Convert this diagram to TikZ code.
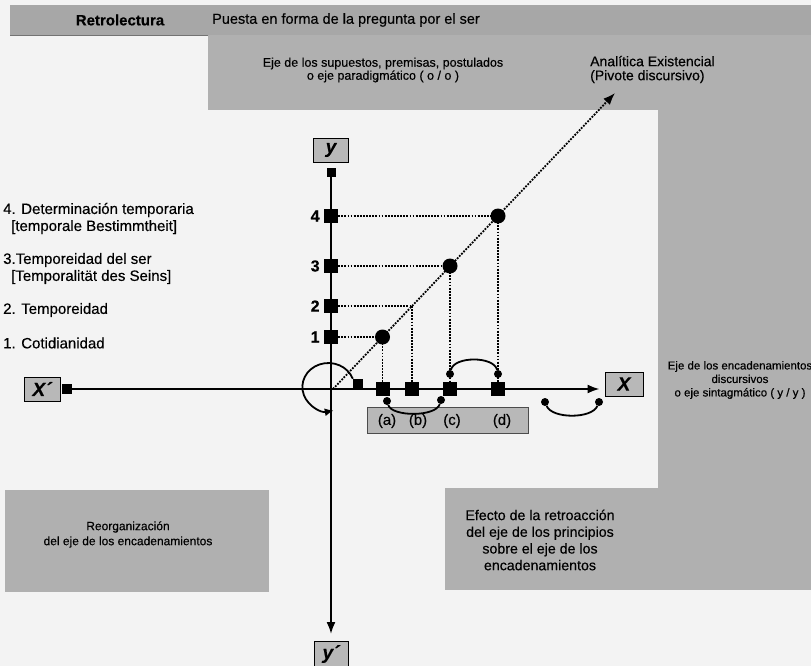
\documentclass[tikz,border=0pt]{standalone}
\usepackage{fontspec}
\setmainfont{Liberation Sans}[FakeBold=0.35]
\usetikzlibrary{arrows.meta}
\definecolor{bgc}{HTML}{F3F3F3}
\definecolor{hdrc}{HTML}{A7A7A7}
\definecolor{boxc}{HTML}{B0B0B0}
\definecolor{labc}{HTML}{B8B8B8}
\begin{document}
\begin{tikzpicture}[x=1pt,y=-1pt,
  txt/.style={inner sep=0pt, align=center},
  axisbox/.style={draw=black, line width=0.9pt, fill=labc, inner sep=0pt,
    minimum height=24pt, font=\fontsize{19}{19}\selectfont\bfseries\itshape},
  ticksq/.style={fill=black, minimum size=14pt, inner sep=0pt},
  smallsq/.style={fill=black, minimum size=10pt, inner sep=0pt},
  bigdot/.style={circle, fill=black, minimum size=15pt, inner sep=0pt},
  enddot/.style={circle, fill=black, minimum size=8pt, inner sep=0pt},
  dotline/.style={line width=1.8pt, dash pattern=on 1.8pt off 1.3pt},
  axisline/.style={line width=2pt},
  arcline/.style={line width=1.8pt},
  tipA/.style={-{Latex[length=12pt,width=9pt]}}
]
\useasboundingbox (0,0) rectangle (811,666);
% backgrounds
\fill[bgc] (0,0) rectangle (811,666);
\fill[hdrc] (10,5) rectangle (811,35);
\draw[black!55, line width=0.8pt] (10,35) -- (811,35);
\fill[boxc] (208,35.4) rectangle (811,110);
\fill[boxc] (658,110) rectangle (811,490);
\fill[boxc] (445,488) rectangle (811,590);
\fill[boxc] (5,490) rectangle (269,592);

% header texts
\node[txt, font=\fontsize{15}{16}\selectfont\bfseries] (retro) at (120,20) {Retrolectura};
\node[txt, anchor=west, font=\fontsize{14.5}{16}\selectfont] (puesta) at (212,20) {Puesta en forma de la pregunta por el ser};
\node[txt, font=\fontsize{12.5}{13}\selectfont] (ejeo) at (383,70) {Eje de los supuestos, premisas, postulados\\o eje paradigmático ( o / o )};
\node[txt, anchor=west, align=left, font=\fontsize{14}{14}\selectfont] (anal) at (590,69.5) {Analítica Existencial\\(Pivote discursivo)};
\node[txt, font=\fontsize{11.5}{13.5}\selectfont] (ejey) at (740,380) {Eje de los encadenamientos\\discursivos\\o eje sintagmático ( y / y )};
\node[txt, font=\fontsize{12}{15}\selectfont] (reorg) at (128,534.5) {Reorganización\\del eje de los encadenamientos};
\node[txt, font=\fontsize{14.2}{16.7}\selectfont] (efecto) at (540,540) {Efecto de la retroacción\\del eje de los principios\\sobre el eje de los\\encadenamientos};

% left labels
\node[txt, anchor=west, align=left, font=\fontsize{15}{17}\selectfont] (l4) at (3,218.5) {4. Determinación temporaria\\\hspace*{8pt}[temporale Bestimmtheit]};
\node[txt, anchor=west, align=left, font=\fontsize{15}{17}\selectfont] (l3) at (3,268.5) {3.Temporeidad del ser\\\hspace*{8pt}[Temporalität des Seins]};
\node[txt, anchor=west, font=\fontsize{15}{17}\selectfont] (l2) at (3,310) {2. Temporeidad};
\node[txt, anchor=west, font=\fontsize{15}{17}\selectfont] (l1) at (3,343) {1. Cotidianidad};

% axis boxes
\node[axisbox, minimum width=35pt] (Y) at (331,150) {y};
\node[axisbox, minimum width=34pt, minimum height=25pt] (Yp) at (331,654) {y´};
\node[axisbox, minimum width=38pt] (X) at (624,384) {X};
\node[axisbox, minimum width=36pt] (Xp) at (42,389) {X´};

\coordinate (O) at (331,389);
\node[smallsq, minimum size=9pt] (ytop) at (331,172) {};
\node[smallsq] (xl) at (67,389) {};

% axes
\draw[axisline] (ytop.south) -- (O);
\draw[axisline, tipA, shorten >=7pt] (O) -- (Yp.north);
\draw[axisline] (xl.east) -- (O);
\draw[axisline, tipA, shorten >=5pt] (O) -- (X.west |- O);

% ticks on y
\node[ticksq] (t4) at (331,216) {};
\node[ticksq] (t3) at (331,266) {};
\node[ticksq] (t2) at (331,306) {};
\node[ticksq] (t1) at (331,337) {};
\foreach \k in {1,2,3,4}{
  \node[txt, anchor=east, font=\fontsize{16}{16}\selectfont\bfseries] (n\k) at ([xshift=-4pt]t\k.west) {\k};
}

% diagonal points
\coordinate (P1) at (382.5,337);
\coordinate (P2) at (412,306);
\coordinate (P3) at (450,266);
\coordinate (P4) at (498,216);
\coordinate (tip) at (615,93);
\coordinate (Od) at (333,389);

% squares on x
\node[ticksq] (a) at (382.5,389) {};
\node[ticksq] (b) at (412,389) {};
\node[ticksq] (c) at (450,389) {};
\node[ticksq] (d) at (498,389) {};
\node[smallsq] (sq) at (358,384) {};

% dotted lines
\draw[dotline, tipA] (Od) -- (tip);
\draw[dotline] (t4.east) -- (P4);
\draw[dotline] (t3.east) -- (P3);
\draw[dotline] (t2.east) -- (P2);
\draw[dotline] (t1.east) -- (P1);
\draw[dotline] (P1) -- (a.north);
\draw[dotline] (P2) -- (b.north);
\draw[dotline] (P3) -- (c.north);
\draw[dotline] (P4) -- (d.north);

\node[bigdot] (c1) at (P1) {};
\node[bigdot] (c3) at (P3) {};
\node[bigdot] (c4) at (P4) {};

% bends
\node[enddot] (e1) at (450,374) {};
\node[enddot] (e2) at (498,374) {};
\draw[arcline] (e1) .. controls (454,356) and (494,356) .. (e2);

% (a)-(d) box
\node[draw=black!70, line width=0.6pt, fill=labc, minimum width=161pt, minimum height=26pt, inner sep=0pt] (abcd) at (447.5,420) {};
\foreach \lab/\xx in {a/387,b/418,c/452,d/502}{
  \node[txt, font=\fontsize{15}{15}\selectfont] (lab\lab) at (\xx,421) {(\lab)};
}

\node[enddot] (f1) at (387,401) {};
\node[enddot] (f2) at (441,400) {};
\draw[arcline] (f1) .. controls (392,417) and (436,417) .. (f2);

\node[enddot] (g1) at (545,402) {};
\node[enddot] (g2) at (599,402) {};
\draw[arcline] (g1) .. controls (552,419) and (592,419) .. (g2);

% origin loop
\draw[arcline, -{Latex[length=9pt,width=8pt]}] (sq.north west) arc[start angle=-20, end angle=-282, x radius=26, y radius=24];
\end{tikzpicture}
\end{document}
